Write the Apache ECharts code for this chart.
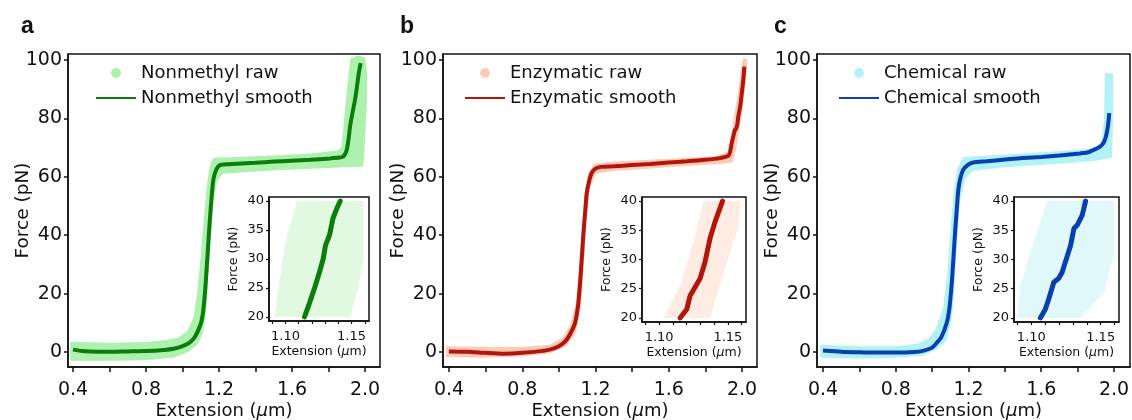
<!DOCTYPE html>
<html><head><meta charset="utf-8">
<script src="https://cdn.jsdelivr.net/npm/echarts@6/dist/echarts.min.js"></script>
<style>html,body{margin:0;padding:0;background:#fff}#c{width:1132px;height:420px}</style>
</head><body><div id="c"></div>
<script>
// ---------- labels ----------
const panelLabels = ['a', 'b', 'c'];
const rawNames = ['Nonmethyl raw', 'Enzymatic raw', 'Chemical raw'];
const smoothNames = ['Nonmethyl smooth', 'Enzymatic smooth', 'Chemical smooth'];
const mainXTicks = [0.4, 0.6, 0.8, 1.0, 1.2, 1.4, 1.6, 1.8, 2.0];
const mainXLabels = [0.4, 0.8, 1.2, 1.6, 2.0];
const mainYLabels = [0, 20, 40, 60, 80, 100];
const insetXTicks = [1.09, 1.10, 1.11, 1.12, 1.13, 1.14, 1.15, 1.16];
const insetXLabels = [1.10, 1.15];
const insetYLabels = [20, 25, 30, 35, 40];

// ---------- a: Nonmethyl ----------
const nmSmoothX = [0.40,0.45,0.5,0.6,0.7,0.8,0.9,0.95,1.0,1.04,1.068,1.09,1.104,1.114,1.124,1.133,1.142,1.151,1.16,1.169,1.185,1.205,1.25,1.3,1.4,1.5,1.6,1.7,1.808,1.86,1.881,1.9,1.91,1.918,1.93,1.945,1.955,1.963,1.97,1.976];
const nmSmoothY = [0.8,0.3,0.2,0.1,0.2,0.3,0.7,1.1,2,3.3,5.2,8,10.5,14.4,21,29.2,38,46.3,53.5,59,62.5,64,64.3,64.5,64.8,65.2,65.5,65.8,66.3,66.6,66.9,69.2,73,77.2,81.5,86.3,90.5,94.3,97,98.9];
const nmRawUpper = [[0.385,3.5],[0.6,3.2],[0.8,3.4],[0.9,4],[0.98,5],[1.03,7.5],[1.06,12],[1.08,20],[1.1,33],[1.12,48],[1.135,58],[1.15,64],[1.17,66.5],[1.3,66.8],[1.5,67.3],[1.7,68],[1.85,69],[1.87,70],[1.88,76],[1.895,86],[1.91,95],[1.92,100.5],[1.96,101.5]];
const nmRawLower = [[0.385,-3],[0.6,-3],[0.8,-2.8],[0.95,-2],[1.03,0],[1.08,2.5],[1.11,6],[1.13,14],[1.14,25],[1.155,40],[1.17,52],[1.19,58.5],[1.22,61],[1.4,61.8],[1.6,62.5],[1.8,63],[1.99,63.5],[2.0,72],[2.01,85],[2.012,96],[2.0,101]];
const nmInsetX = [1.1144,1.118,1.122,1.1258,1.1285,1.1303,1.1333,1.1359,1.139,1.1414];
const nmInsetY = [20,22.3,25,27.8,30,32.4,34.1,37,38.8,40];
const nmInsetCloud = [[1.092,20],[1.094,24],[1.098,30],[1.101,34],[1.109,40],[1.159,40],[1.159,30],[1.155,25],[1.149,20]];

// ---------- b: Enzymatic ----------
const enSmoothX = [0.40,0.5,0.6,0.7,0.8,0.9,0.95,1.0,1.035,1.06,1.088,1.105,1.115,1.125,1.134,1.145,1.152,1.165,1.179,1.2,1.23,1.3,1.4,1.5,1.6,1.7,1.8,1.88,1.925,1.935,1.944,1.955,1.962,1.968,1.975,1.98,1.99,1.999,2.007,2.013];
const enSmoothY = [0.2,0.1,-0.3,-0.6,-0.3,0.3,0.8,2,3.6,6,9.9,16,23,32,40.5,49,54.4,58.5,61.3,62.8,63.4,63.6,64,64.4,64.9,65.3,65.8,66.4,67.2,68.5,71.5,74.5,76.1,76.5,78,80.7,84,88.7,93,97.7];
const enRawUpper = [[0.385,2],[0.6,1.8],[0.8,1.8],[0.95,2.5],[1.02,5],[1.06,9],[1.09,16],[1.11,28],[1.125,42],[1.14,54],[1.16,61],[1.19,64.5],[1.3,65.2],[1.6,66.2],[1.85,67],[1.92,68.5],[1.94,74],[1.96,82],[1.98,90],[1.995,97],[2.005,100.5],[2.02,100.5]];
const enRawLower = [[0.385,-1.8],[0.6,-2],[0.8,-1.5],[0.95,-0.5],[1.04,2],[1.09,6],[1.12,15],[1.135,28],[1.15,45],[1.17,56],[1.2,61],[1.3,62],[1.6,63.3],[1.9,64.5],[1.95,65],[1.97,70],[1.99,78],[2.01,86],[2.025,95],[2.03,100]];
const enInsetX = [1.1152,1.1201,1.1225,1.1297,1.1333,1.137,1.1406,1.1461];
const enInsetY = [20,21.5,23.8,26.7,29.5,33.6,36.4,40];
const enInsetCloud = [[1.1031,20],[1.1152,25.5],[1.1249,33],[1.1321,40],[1.159,40],[1.158,36],[1.146,27],[1.137,20]];

// ---------- c: Chemical ----------
const chSmoothX = [0.40,0.5,0.6,0.7,0.8,0.9,0.95,1.0,1.025,1.05,1.08,1.095,1.108,1.117,1.126,1.135,1.144,1.155,1.171,1.195,1.226,1.3,1.4,1.5,1.6,1.7,1.813,1.86,1.905,1.925,1.941,1.952,1.96,1.968,1.974];
const chSmoothY = [0.5,0.1,-0.1,-0.2,-0.2,0,0.4,1.5,3.1,5,9.9,15,23.6,32,40.7,48.5,55.5,59.5,62.4,64,64.9,65.3,65.9,66.4,66.8,67.3,68,68.4,69.7,70.4,71.5,73,75,78,81.8];
const chRawUpper = [[0.385,2.5],[0.6,2],[0.8,2],[0.92,2.8],[0.98,4.5],[1.02,8],[1.06,15],[1.085,28],[1.105,45],[1.12,56],[1.14,63],[1.17,66.8],[1.3,67.3],[1.6,68.4],[1.85,69.5],[1.93,70.5],[1.945,80],[1.95,95.5],[1.99,95.5]];
const chRawLower = [[0.385,-2],[0.6,-2.3],[0.8,-2],[0.95,-1.2],[1.03,1],[1.08,4],[1.11,12],[1.125,25],[1.14,40],[1.155,52],[1.18,59],[1.22,62],[1.4,63.3],[1.7,64.5],[1.9,65.5],[1.99,66.5],[1.995,80],[1.995,95]];
const chInsetX = [1.1065,1.1101,1.1125,1.1162,1.1198,1.1222,1.1283,1.1307,1.1331,1.1367,1.1391];
const chInsetY = [20,21.5,23.2,26.1,26.8,27.8,32.4,35.3,35.9,37.6,40];
const chInsetCloud = [[1.0896,20],[1.092,25.5],[1.0993,31.3],[1.1114,40],[1.1596,40],[1.1596,31],[1.1524,24.4],[1.1355,20]];

// ---------- build ----------
const FONT = 'DejaVu Sans';
const panels = [
  {sx: nmSmoothX, sy: nmSmoothY, up: nmRawUpper, lo: nmRawLower, ix: nmInsetX, iy: nmInsetY, cloud: nmInsetCloud,
   raw: '#aef0ae', smooth: '#0b7d0b', cloudCol: '#e0f9e0'},
  {sx: enSmoothX, sy: enSmoothY, up: enRawUpper, lo: enRawLower, ix: enInsetX, iy: enInsetY, cloud: enInsetCloud,
   raw: '#fbcdb8', smooth: '#b3140c', cloudCol: '#feebe2'},
  {sx: chSmoothX, sy: chSmoothY, up: chRawUpper, lo: chRawLower, ix: chInsetX, iy: chInsetY, cloud: chInsetCloud,
   raw: '#b2f2f6', smooth: '#0a3fae', cloudCol: '#e0f8fa'}
];
const mainGrids = [
  {left: 68, top: 54, width: 312, height: 313},
  {left: 443, top: 54, width: 314, height: 313},
  {left: 817, top: 54, width: 313, height: 313}
];
const insetGrids = [
  {left: 269, top: 197, width: 100, height: 124},
  {left: 642, top: 197, width: 104, height: 125},
  {left: 1014, top: 197, width: 105, height: 125}
];
const mainXRange = [[0.3726, 2.082], [0.3672, 2.082], [0.367, 2.088]];
const legendLeft = [90, 459, 833];
const labelLeft = [16, 395, 769];

function zip(xs, ys) { return xs.map((x, i) => [x, ys[i]]); }
function polyRenderer(outline) {
  return function (params, api) {
    if (params.dataIndex !== 0) return {type: 'group', children: []};
    const pts = outline.map(p => api.coord(p));
    return {type: 'polygon', shape: {points: pts}, style: {fill: api.visual('color')}};
  };
}

const grid = [], xAxis = [], yAxis = [], series = [], legend = [], title = [];
const axisLineStyle = {color: '#111', width: 1.5};

panels.forEach((p, k) => {
  grid.push(Object.assign({show: true, borderColor: '#111', borderWidth: 1.5, backgroundColor: 'transparent', outerBoundsMode: 'none', containLabel: false}, mainGrids[k]));
  grid.push(Object.assign({show: true, borderColor: '#111', borderWidth: 1.5, backgroundColor: '#fff', z: 5, outerBoundsMode: 'none', containLabel: false}, insetGrids[k]));
  const gm = 2 * k, gi = 2 * k + 1;
  xAxis.push({
    gridIndex: gm, type: 'value', min: mainXRange[k][0], max: mainXRange[k][1],
    splitLine: {show: false}, nameMoveOverlap: false,
    axisLine: {onZero: false, lineStyle: axisLineStyle},
    axisTick: {customValues: mainXTicks, length: 5, lineStyle: axisLineStyle},
    axisLabel: {customValues: mainXLabels, formatter: v => v.toFixed(1), fontSize: 19, color: '#111', fontFamily: FONT, margin: 14},
    name: 'Extension ({i|μ}m)', nameLocation: 'middle', nameGap: 35,
    nameTextStyle: {fontSize: 18, color: '#111', fontFamily: FONT,
      rich: {i: {fontStyle: 'italic', fontSize: 18, color: '#111', fontFamily: FONT}}}
  });
  yAxis.push({
    gridIndex: gm, type: 'value', min: -5.14, max: 102.05,
    splitLine: {show: false}, nameMoveOverlap: false,
    axisLine: {onZero: false, lineStyle: axisLineStyle},
    axisTick: {customValues: mainYLabels, length: 4, lineStyle: axisLineStyle},
    axisLabel: {customValues: mainYLabels, fontSize: 19, color: '#111', fontFamily: FONT, margin: 6},
    name: 'Force (pN)', nameLocation: 'middle', nameGap: 35,
    nameTextStyle: {fontSize: 18.5, color: '#111', fontFamily: FONT}
  });
  xAxis.push({
    gridIndex: gi, type: 'value', min: 1.0875, max: 1.1632, z: 6,
    splitLine: {show: false}, nameMoveOverlap: false,
    axisLine: {onZero: false, lineStyle: axisLineStyle},
    axisTick: {customValues: insetXTicks, length: 3, lineStyle: {color: '#111', width: 1.2}},
    axisLabel: {customValues: insetXLabels, formatter: v => v.toFixed(2), fontSize: 13, color: '#111', fontFamily: FONT, margin: 9},
    name: 'Extension ({i|μ}m)', nameLocation: 'middle', nameGap: 24,
    nameTextStyle: {fontSize: 12.5, color: '#111', fontFamily: FONT,
      rich: {i: {fontStyle: 'italic', fontSize: 12.5, color: '#111', fontFamily: FONT}}}
  });
  yAxis.push({
    gridIndex: gi, type: 'value', min: 19.3, max: 40.7, z: 6,
    splitLine: {show: false}, nameMoveOverlap: false,
    axisLine: {onZero: false, lineStyle: axisLineStyle},
    axisTick: {customValues: insetYLabels, length: 3, lineStyle: {color: '#111', width: 1.2}},
    axisLabel: {customValues: insetYLabels, fontSize: 13, color: '#111', fontFamily: FONT, margin: 5},
    name: 'Force (pN)', nameLocation: 'middle', nameGap: 29,
    nameTextStyle: {fontSize: 12.5, color: '#111', fontFamily: FONT}
  });
  const outline = p.up.concat(p.lo.slice().reverse());
  series.push({
    name: rawNames[k], type: 'custom', xAxisIndex: gm, yAxisIndex: gm, clip: true,
    itemStyle: {color: p.raw}, data: outline, encode: {x: 0, y: 1},
    renderItem: polyRenderer(outline), z: 2, silent: true
  });
  series.push({
    name: smoothNames[k], type: 'line', xAxisIndex: gm, yAxisIndex: gm,
    data: zip(p.sx, p.sy), showSymbol: false, symbol: 'none', smooth: 0.2,
    lineStyle: {color: p.smooth, width: 4}, itemStyle: {color: p.smooth}, z: 3, silent: true
  });
  series.push({
    name: rawNames[k] + ' (inset)', type: 'custom', xAxisIndex: gi, yAxisIndex: gi, clip: true,
    itemStyle: {color: p.cloudCol}, data: p.cloud, encode: {x: 0, y: 1},
    renderItem: polyRenderer(p.cloud), z: 7, silent: true
  });
  series.push({
    name: smoothNames[k] + ' (inset)', type: 'line', xAxisIndex: gi, yAxisIndex: gi,
    data: zip(p.ix, p.iy), showSymbol: false, symbol: 'none',
    lineStyle: {color: p.smooth, width: 5, cap: 'round'}, itemStyle: {color: p.smooth}, z: 8, silent: true
  });
  legend.push({
    orient: 'vertical', left: legendLeft[k], top: 59, itemWidth: 40, itemHeight: 10, itemGap: 7,
    symbolKeepAspect: true,
    textStyle: {fontSize: 18, color: '#111', fontFamily: FONT},
    data: [{name: rawNames[k], icon: 'circle'},
           {name: smoothNames[k], itemStyle: {opacity: 0, borderWidth: 0}}],
    selectedMode: false
  });
  title.push({text: panelLabels[k], left: labelLeft[k], top: 10,
    textStyle: {fontSize: 23, fontWeight: 'bold', color: '#111', fontFamily: 'Liberation Sans'}});
});

const chart = echarts.init(document.getElementById('c'), null, {renderer: 'canvas'});
chart.setOption({animation: false, backgroundColor: '#fff', title, legend, grid, xAxis, yAxis, series});
</script>
</body></html>
